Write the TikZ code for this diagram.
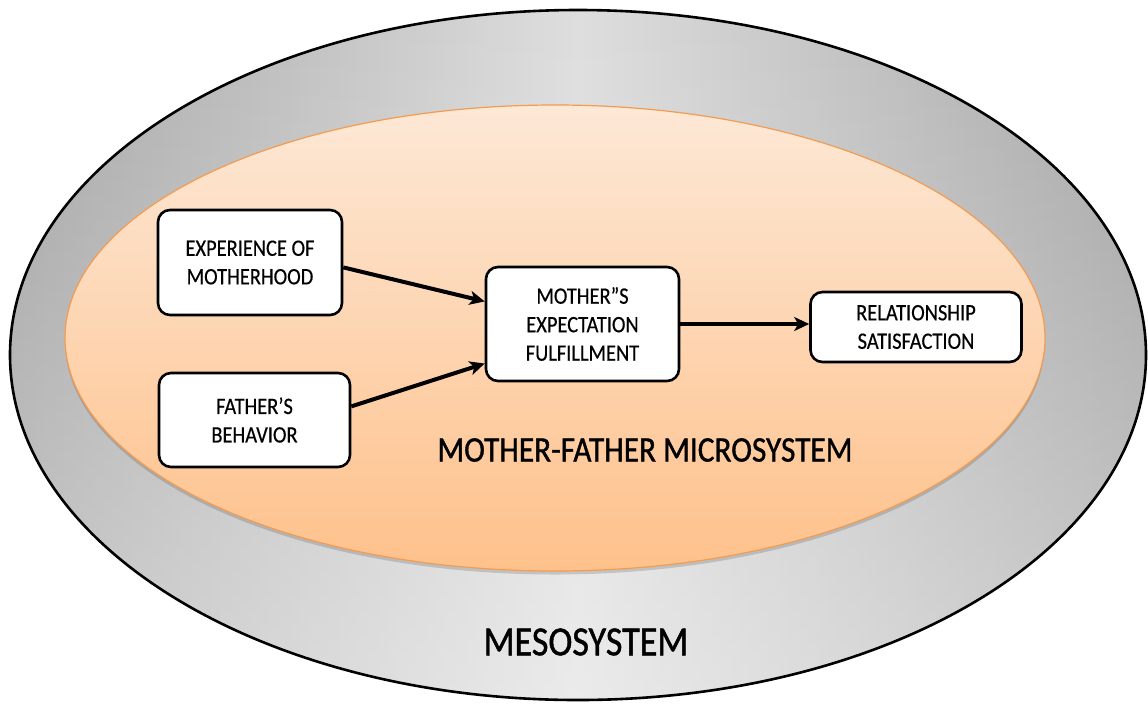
\documentclass[tikz,border=0pt]{standalone}
\usepackage{fontspec}
\setmainfont{Carlito}[FakeStretch=0.87, FakeBold=0.4]
\newfontfamily\systemfont{Carlito}[FakeStretch=0.87, FakeBold=1]
\usetikzlibrary{arrows.meta,fadings}

\definecolor{mesodark}{HTML}{A4A4A4}
\definecolor{mesolight}{HTML}{DEDEDE}
\definecolor{microtop}{HTML}{FDE8D6}
\definecolor{microbottom}{HTML}{FEC18B}
\definecolor{microedge}{HTML}{F29C52}

\begin{document}
\begin{tikzpicture}[x=1pt,y=-1pt,
  box/.style={draw=black, line width=2.6pt, fill=white, rounded corners=12pt,
    align=center, inner sep=0pt, font=\fontsize{23.5}{28.5}\selectfont},
  arr/.style={line width=4pt, -{Stealth[length=15pt,width=14pt,inset=4pt]}},
  syslabel/.style={inner sep=0pt},
]
\useasboundingbox (0,0) rectangle (1148,705);

% outer ring: mesosystem
\shade[left color=mesodark, right color=mesodark, middle color=mesolight]
  (578,355) ellipse [x radius=568, y radius=345];
\fill[white, fill opacity=0.4, path fading=north]
  (578,355) ellipse [x radius=568, y radius=345];
\draw[line width=2.6pt, black] (578,355) ellipse [x radius=568, y radius=345];

% inner disc: mother-father microsystem, with a soft drop shadow
\fill[black, opacity=0.15] (555,341.5) ellipse [x radius=490, y radius=233];
\shade[top color=microtop, bottom color=microbottom]
  (555,338) ellipse [x radius=490, y radius=233];
\draw[line width=1.2pt, microedge] (555,338) ellipse [x radius=490, y radius=233];

% factor boxes
\node[box, minimum width=184pt, minimum height=105pt] (exp) at (250,262.5)
  {EXPERIENCE OF\\MOTHERHOOD};
\node[box, minimum width=191pt, minimum height=94pt] (fat) at (254.5,420)
  {FATHER’S\\BEHAVIOR};
\node[box, minimum width=193pt, minimum height=114pt] (mom) at (582.5,324)
  {MOTHER”S\\EXPECTATION\\FULFILLMENT};
\node[box, minimum width=211pt, minimum height=70pt] (rel) at (916,327)
  {RELATIONSHIP\\SATISFACTION};

% influence arrows
\draw[arr] (exp.-3) -- (mom.167);
\draw[arr] (fat.8) -- (mom.202);
\draw[arr] (mom.east) -- (mom.east -| rel.west);

% system labels
\node[syslabel, font=\systemfont\fontsize{36}{42}\selectfont] (micro) at (645,450)
  {MOTHER-FATHER MICROSYSTEM};
\node[syslabel, font=\systemfont\fontsize{41.5}{48}\selectfont] (meso) at (586,642)
  {MESOSYSTEM};
\end{tikzpicture}
\end{document}
